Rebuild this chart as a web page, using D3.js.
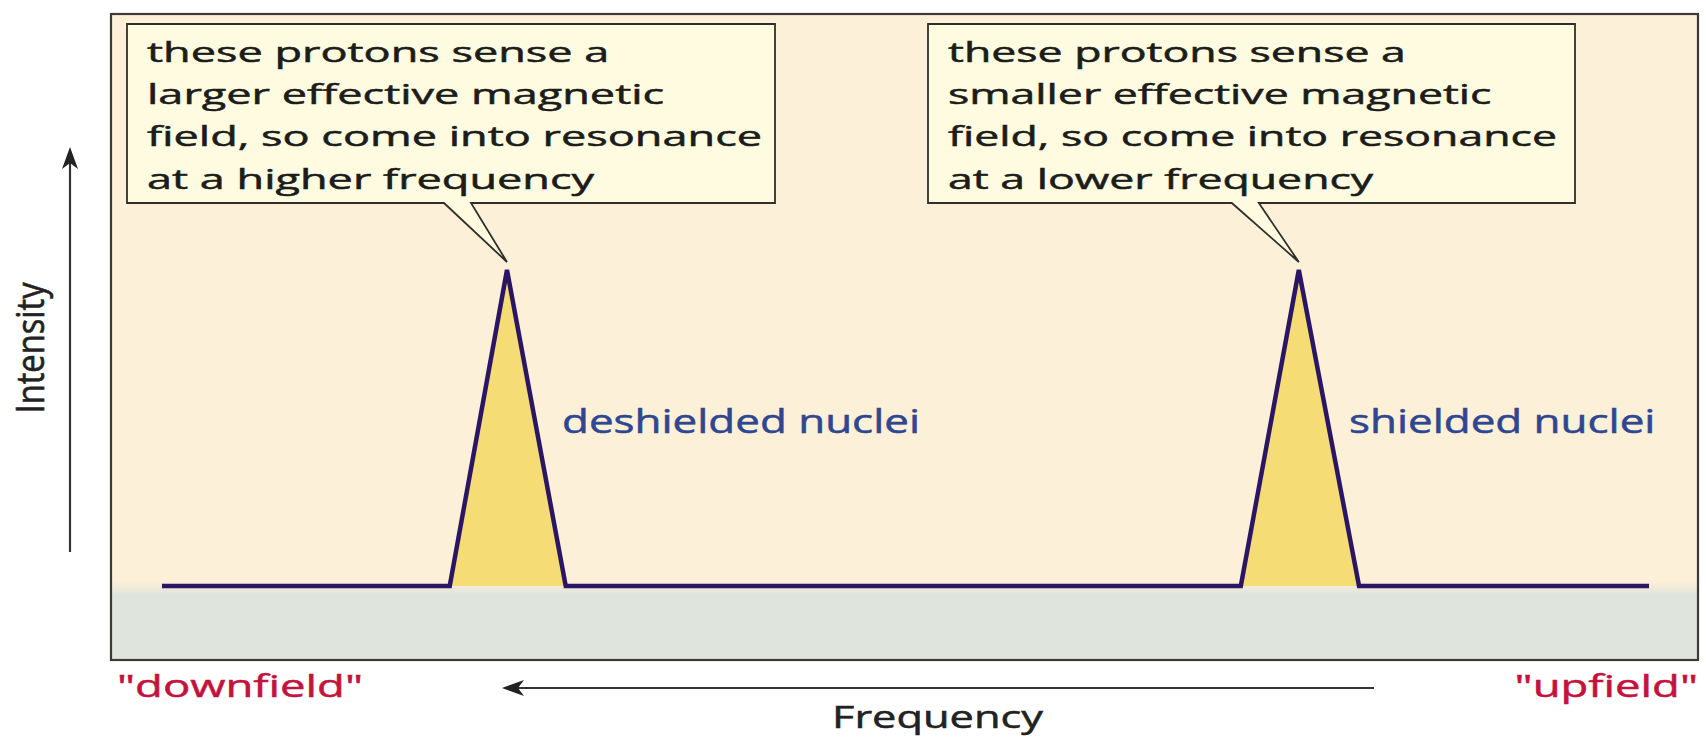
<!DOCTYPE html>
<html><head><meta charset="utf-8">
<script src="https://cdn.jsdelivr.net/npm/d3@7"></script>
<style>html,body{margin:0;padding:0;background:#fff;}svg{display:block;}</style>
</head><body>
<svg id="c" width="1706" height="738"></svg>
<script>
// ---- data ----
const freqPos   = [0, 19.35, 23.2, 27.15, 72.55, 76.45, 80.5, 100];
const intensity = [0, 0,     1,    0,     0,     1,     0,    0];
const peakApex  = [23.2, 76.45];
const peakNames = ["deshielded nuclei", "shielded nuclei"];
const calloutLines = [
  ["these protons sense a", "larger effective magnetic", "field, so come into resonance", "at a higher frequency"],
  ["these protons sense a", "smaller effective magnetic", "field, so come into resonance", "at a lower frequency"]
];
const axisLabels = {x: "Frequency", y: "Intensity"};
const endLabels = ['"downfield"', '"upfield"'];

// ---- layout ----
const svg = d3.select("#c");
const frame = {x: 111, y: 14, w: 1587, h: 646};
const x = d3.scaleLinear().domain([0, 100]).range([162, 1649]);
const y = d3.scaleLinear().domain([0, 1]).range([586, 270]);
const FONT = "'Open Sans', 'Noto Sans', sans-serif";

function natural(sel) { return sel.node().getComputedTextLength(); }
function stretch(sel, k) {
  const w = natural(sel);
  sel.attr("textLength", w * k).attr("lengthAdjust", "spacingAndGlyphs");
}
function heavy(sel, color, sw) {
  return sel.attr("fill", color).attr("stroke", color).attr("stroke-width", sw).attr("paint-order", "stroke");
}

const defs = svg.append("defs");
const g = defs.append("linearGradient").attr("id","bg").attr("x1",0).attr("y1",0).attr("x2",0).attr("y2",1);
const split = (y(0) - frame.y) / frame.h;
g.append("stop").attr("offset", 0).attr("stop-color", "#fdf0d8");
g.append("stop").attr("offset", split - 0.008).attr("stop-color", "#fdf0d8");
g.append("stop").attr("offset", split + 0.014).attr("stop-color", "#dfe4dd");
g.append("stop").attr("offset", 1).attr("stop-color", "#dfe4dd");

svg.append("rect").attr("x", frame.x).attr("y", frame.y).attr("width", frame.w).attr("height", frame.h)
  .attr("fill", "url(#bg)");

// spectrum
const pts = freqPos.map((f, i) => ({f, v: intensity[i]}));
svg.append("path").datum(pts)
  .attr("d", d3.area().x(d => x(d.f)).y0(y(0)).y1(d => y(d.v)))
  .attr("fill", "#f6dc74");
svg.append("path").datum(pts)
  .attr("d", d3.line().x(d => x(d.f)).y(d => y(d.v)))
  .attr("fill", "none").attr("stroke", "#2b1666").attr("stroke-width", 4.5).attr("stroke-linejoin", "miter");

svg.append("rect").attr("x", frame.x).attr("y", frame.y).attr("width", frame.w).attr("height", frame.h)
  .attr("fill", "none").attr("stroke", "#3a3a36").attr("stroke-width", 2.2);

// callouts
const boxes = [{x0: 127, x1: 775, p1: -63, p2: -36}, {x0: 928, x1: 1575, p1: -67, p2: -40}];
const boxTop = 24, boxBot = 203;
boxes.forEach((b, i) => {
  const ax = x(peakApex[i]);
  const ay = y(1) - 8;
  const path = d3.path();
  path.moveTo(b.x0, boxTop); path.lineTo(b.x1, boxTop); path.lineTo(b.x1, boxBot);
  path.lineTo(ax + b.p2, boxBot); path.lineTo(ax, ay); path.lineTo(ax + b.p1, boxBot);
  path.lineTo(b.x0, boxBot); path.closePath();
  svg.append("path").attr("d", path.toString()).attr("fill", "#fefbe0")
    .attr("stroke", "#2f2f2a").attr("stroke-width", 1.8).attr("stroke-linejoin", "miter");
  const texts = calloutLines[i].map((line, j) =>
    heavy(svg.append("text").attr("x", b.x0 + 20).attr("y", 62 + j * 42.2)
      .attr("font-family", FONT).attr("font-size", 27.5).text(line), "#1c1c1a", 0.5));
  const k = (i === 0 ? 615 : 609) / natural(texts[2]);
  texts.forEach(t => stretch(t, k));
});

// peak labels
const nameX = [562, 1349];
let kName = null;
peakNames.forEach((n, i) => {
  const t = heavy(svg.append("text").attr("x", nameX[i]).attr("y", 433)
    .attr("font-family", FONT).attr("font-size", 32).text(n), "#2f4790", 0.5);
  if (kName === null) kName = 358 / natural(t);
  stretch(t, kName);
});

function arrowHead(tipX, tipY, dir) {
  const L = 22, W = 8, notch = 6;
  let p;
  if (dir === "up") p = [[tipX, tipY], [tipX + W, tipY + L], [tipX, tipY + L - notch], [tipX - W, tipY + L]];
  else p = [[tipX, tipY], [tipX + L, tipY - W], [tipX + L - notch, tipY], [tipX + L, tipY + W]];
  svg.append("path").attr("d", "M" + p.map(q => q.join(",")).join("L") + "Z").attr("fill", "#222");
}
svg.append("line").attr("x1", 70).attr("x2", 70).attr("y1", 552).attr("y2", 160)
  .attr("stroke", "#333").attr("stroke-width", 2.2);
arrowHead(70, 147, "up");
svg.append("line").attr("x1", 1374).attr("x2", 515).attr("y1", 688).attr("y2", 688)
  .attr("stroke", "#333").attr("stroke-width", 2.2);
arrowHead(502, 688, "left");

// axis labels
const yl = heavy(svg.append("text").attr("transform", "translate(44,348) scale(1.35,1) rotate(-90)")
  .attr("text-anchor", "middle").attr("font-family", FONT).attr("font-size", 28)
  .text(axisLabels.y), "#222", 0.45);
yl.attr("textLength", 131).attr("lengthAdjust", "spacingAndGlyphs");
const xl = heavy(svg.append("text").attr("x", 832).attr("y", 728)
  .attr("font-family", FONT).attr("font-size", 31).text(axisLabels.x), "#222", 0.5);
xl.attr("textLength", 211).attr("lengthAdjust", "spacingAndGlyphs");

const dl = heavy(svg.append("text").attr("x", 117).attr("y", 697)
  .attr("font-family", FONT).attr("font-size", 31.5).text(endLabels[0]), "#c4123e", 0.5);
const kEnd = 246 / natural(dl);
stretch(dl, kEnd);
const ul = heavy(svg.append("text").attr("y", 697)
  .attr("font-family", FONT).attr("font-size", 31.5).text(endLabels[1]), "#c4123e", 0.5);
const uw = natural(ul) * kEnd;
ul.attr("x", 1698 - uw);
stretch(ul, kEnd);
</script>
</body></html>
